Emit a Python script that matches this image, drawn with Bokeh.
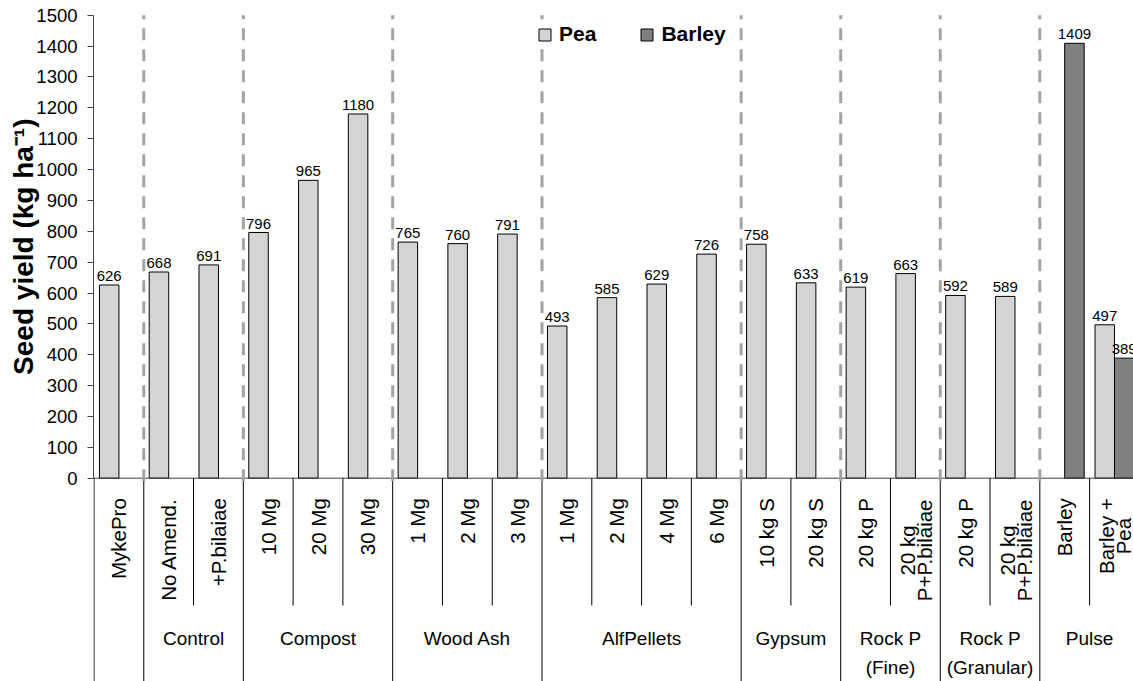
import math

from bokeh.core.properties import value
from bokeh.embed import file_html
from bokeh.models import ColumnDataSource, FixedTicker, Legend, LegendItem, Range1d, Title
from bokeh.plotting import figure
from bokeh.resources import INLINE

# ---------------------------------------------------------------- data
treatments = ["MykePro", "No Amend.", "+P.bilaiae", "10 Mg", "20 Mg", "30 Mg",
              "1 Mg", "2 Mg", "3 Mg", "1 Mg", "2 Mg", "4 Mg", "6 Mg",
              "10 kg S", "20 kg S", "20 kg P", "20 kg\nP+P.bilaiae",
              "20 kg P", "20 kg\nP+P.bilaiae", "Barley", "Barley +\nPea"]
groups = ["", "Control", "Compost", "Wood Ash", "AlfPellets", "Gypsum",
          "Rock P\n(Fine)", "Rock P\n(Granular)", "Pulse"]
group_sizes = [1, 2, 3, 3, 4, 2, 2, 2, 2]
pea_yield = [626, 668, 691, 796, 965, 1180, 765, 760, 791, 493, 585, 629, 726,
             758, 633, 619, 663, 592, 589, None, 497]
barley_yield = [None, None, None, None, None, None, None, None, None, None, None,
                None, None, None, None, None, None, None, None, 1409, 389]
y_ticks = [0, 100, 200, 300, 400, 500, 600, 700, 800, 900, 1000, 1100, 1200,
           1300, 1400, 1500]
y_label = "Seed yield (kg ha\u207b\u00b9)"

# ---------------------------------------------------------------- layout
W, H = 1133, 681
FRAME_LEFT = 93            # canvas x of the value axis
SLOT_PX = 49.78            # width of one treatment slot
Y0_PX = 477.7              # canvas y of zero yield
PX_PER_UNIT = 463.0 / 1500  # vertical scale, pixels per kg/ha

PEA_OFF, BARLEY_OFF, BAR_W = 0.305, 0.695, 0.392

FONT = "Liberation Sans"
AXIS = "#404040"
PEA_FILL = "#D4D4D4"
BARLEY_FILL = "#808080"
DASH = "#A3A3A3"

x_start = -0.5 / SLOT_PX
x_end = x_start + (W - FRAME_LEFT) / SLOT_PX
y_end = Y0_PX / PX_PER_UNIT
y_start = -(H - Y0_PX) / PX_PER_UNIT


def px_y(py):
    return (Y0_PX - py) / PX_PER_UNIT


# Arial advance widths (em) used to centre stacked rotated lines
EM = {" ": 0.278, ".": 0.278, "+": 0.584, "P": 0.667, "B": 0.667, "b": 0.556,
      "i": 0.222, "l": 0.222, "a": 0.556, "e": 0.556, "k": 0.5, "g": 0.556,
      "r": 0.333, "y": 0.5}


def text_px(s, size):
    return sum(EM.get(c, 0.556) for c in s) * size


p = figure(width=W, height=H, x_range=Range1d(x_start, x_end),
           y_range=Range1d(y_start, y_end), x_axis_type=None,
           output_backend="svg", toolbar_location=None,
           min_border=0, min_border_left=FRAME_LEFT, min_border_right=0,
           min_border_top=0, min_border_bottom=0)
p.outline_line_color = None
p.ygrid.visible = False
p.background_fill_color = "white"
p.border_fill_color = "white"

ax = p.yaxis[0]
ax.ticker = FixedTicker(ticks=y_ticks)
ax.bounds = (0, 1500)
ax.major_tick_in = 0
ax.major_tick_out = 6
ax.minor_tick_line_color = None
ax.axis_line_color = AXIS
ax.major_tick_line_color = AXIS
ax.major_label_text_font = FONT
ax.major_label_text_font_size = "18.5px"
ax.major_label_text_color = "black"
ax.major_label_standoff = 10

# vertical axis title in the left margin, level with the value scale
p.add_layout(Title(text=y_label, align="right", offset=118, standoff=-11,
                   text_font=FONT, text_font_size="28px", text_font_style="bold",
                   text_color="black"), "left")

# ---------------------------------------------------------------- bars
pea_src = ColumnDataSource(dict(
    x=[i + PEA_OFF for i, v in enumerate(pea_yield) if v is not None],
    top=[v for v in pea_yield if v is not None],
    label=[str(v) for v in pea_yield if v is not None]))
barley_src = ColumnDataSource(dict(
    x=[i + BARLEY_OFF for i, v in enumerate(barley_yield) if v is not None],
    top=[v for v in barley_yield if v is not None],
    label=[str(v) for v in barley_yield if v is not None]))

r_pea = p.vbar(x="x", top="top", bottom=0, width=BAR_W, source=pea_src,
               fill_color=PEA_FILL, line_color="black", line_width=1)
r_barley = p.vbar(x="x", top="top", bottom=0, width=BAR_W, source=barley_src,
                  fill_color=BARLEY_FILL, line_color="black", line_width=1)

for src in (pea_src, barley_src):
    p.text(x="x", y="top", text="label", source=src, text_align="center",
           text_baseline="alphabetic", y_offset=-9, text_font=value(FONT),
           text_font_size="15px", text_color="black")

# ---------------------------------------------------------------- category table
n_slots = len(treatments)
bounds = [0]
for s in group_sizes:
    bounds.append(bounds[-1] + s)
inner = [b for b in range(1, n_slots) if b not in bounds]

p.segment(x0=[0], y0=[0], x1=[n_slots + 1], y1=[0], line_color=AXIS, line_width=1)
p.segment(x0=bounds, y0=[0] * len(bounds), x1=bounds, y1=[y_start - 50] * len(bounds),
          line_color="black", line_width=1)
p.segment(x0=inner, y0=[0] * len(inner), x1=inner, y1=[px_y(605)] * len(inner),
          line_color="black", line_width=1)

SUB_SIZE = 20.5
SUB_TOP = 20
SUB_LEAD = 17
single = dict(x=[], text=[])
stacked = dict(x=[], text=[], xo=[], yo=[])
for i, lab in enumerate(treatments):
    lines = lab.split("\n")
    if len(lines) == 1:
        single["x"].append(i + 0.5)
        single["text"].append(lab)
    else:
        longest = max(text_px(t, SUB_SIZE) for t in lines)
        n = len(lines)
        for k, t in enumerate(lines):
            stacked["x"].append(i + 0.5)
            stacked["text"].append(t)
            stacked["xo"].append((k - (n - 1) / 2) * SUB_LEAD + 1)
            stacked["yo"].append(SUB_TOP + longest / 2)

p.text(x="x", y=0, text="text", source=ColumnDataSource(single), angle=math.pi / 2,
       text_align="right", text_baseline="middle", y_offset=SUB_TOP,
       text_font=value(FONT), text_font_size=f"{SUB_SIZE}px", text_color="black")
p.text(x="x", y=0, text="text", source=ColumnDataSource(stacked), angle=math.pi / 2,
       text_align="center", text_baseline="middle", x_offset="xo", y_offset="yo",
       text_font=value(FONT), text_font_size=f"{SUB_SIZE}px", text_color="black")

grp = dict(x=[], text=[], yo=[])
for g, a, b in zip(groups, bounds[:-1], bounds[1:]):
    if not g:
        continue
    for k, t in enumerate(g.split("\n")):
        grp["x"].append((a + b) / 2)
        grp["text"].append(t)
        grp["yo"].append(160.5 + 28.5 * k)
p.text(x="x", y=0, text="text", source=ColumnDataSource(grp), y_offset="yo",
       text_align="center", text_baseline="middle", text_font=value(FONT),
       text_font_size="19px", text_color="black")

# dashed separators between treatment groups
sep = bounds[1:-1]
p.segment(x0=sep, y0=[-10] * len(sep), x1=sep, y1=[1500] * len(sep),
          line_color=DASH, line_width=3, line_dash="12 9")

# ---------------------------------------------------------------- legend
legend = Legend(items=[LegendItem(label="Pea", renderers=[r_pea]),
                       LegendItem(label="Barley", renderers=[r_barley])],
                orientation="horizontal", location=(444, 635),
                glyph_width=15, glyph_height=15, label_standoff=7, spacing=43,
                padding=4, margin=0, border_line_color=None,
                background_fill_color="white", background_fill_alpha=1.0,
                label_text_font=FONT, label_text_font_size="21px",
                label_text_font_style="bold", label_text_color="black")
p.add_layout(legend)

open("out.html", "w").write(file_html(p, INLINE))
